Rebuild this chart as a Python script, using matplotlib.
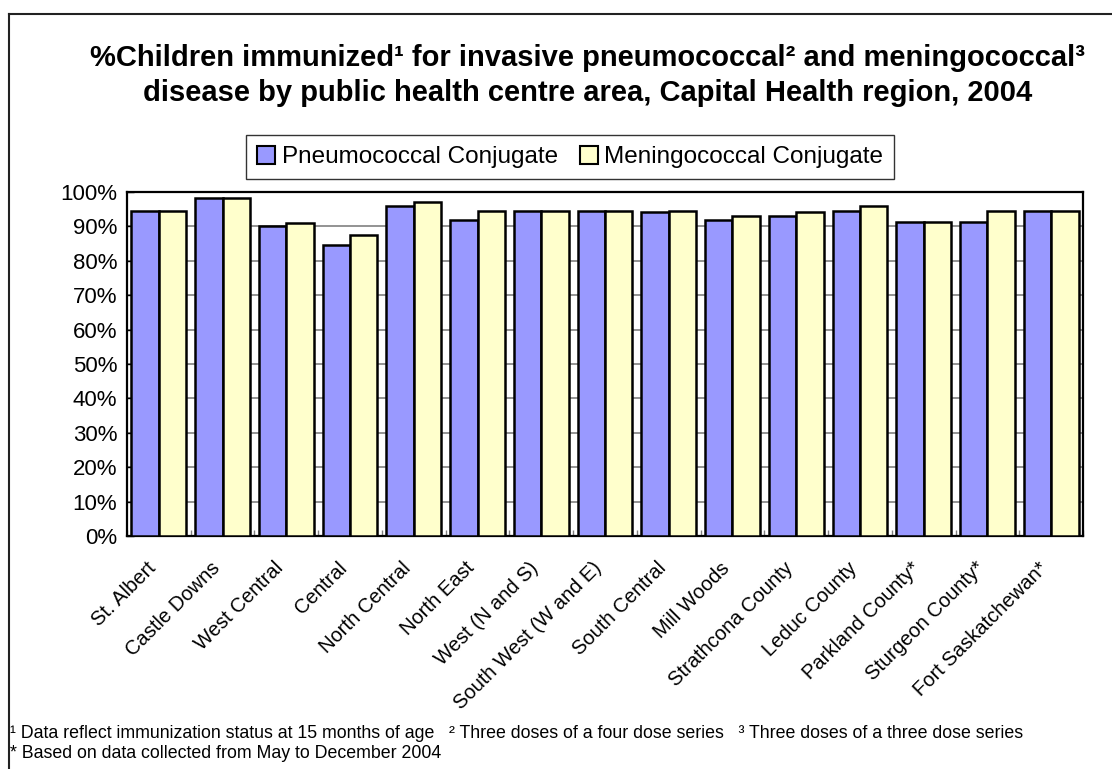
import numpy as np
import matplotlib
matplotlib.use('Agg')
import matplotlib.pyplot as plt
import matplotlib.transforms as mtransforms
from matplotlib.lines import Line2D
from matplotlib.patches import Patch

plt.rcParams['font.family'] = ['Liberation Sans', 'DejaVu Sans']

areas = ['St. Albert', 'Castle Downs', 'West Central', 'Central', 'North Central',
         'North East', 'West (N and S)', 'South West (W and E)', 'South Central',
         'Mill Woods', 'Strathcona County', 'Leduc County', 'Parkland County*',
         'Sturgeon County*', 'Fort Saskatchewan*']
pneumo = [94.6, 98.2, 90.0, 84.7, 95.9, 91.8, 94.6, 94.6, 94.1, 91.8, 92.9, 94.6, 91.2, 91.2, 94.6]
mening = [94.6, 98.2, 91.0, 87.6, 97.0, 94.6, 94.6, 94.6, 94.6, 92.9, 94.1, 95.9, 91.2, 94.6, 94.6]
yticks = list(range(0, 101, 10))

blue = '#9999FF'
cream = '#FFFFCC'

fig = plt.figure(figsize=(11.12, 7.69), dpi=100)
ax = fig.add_axes([127 / 1112, 1 - 536 / 769, (1083 - 127) / 1112, (536 - 192) / 769])

x = np.arange(len(areas))
w = 0.43
ax.bar(x - w / 2, pneumo, w, color=blue, edgecolor='black', linewidth=1.8, zorder=3)
ax.bar(x + w / 2, mening, w, color=cream, edgecolor='black', linewidth=1.8, zorder=3)

ax.set_xlim(-0.5, len(areas) - 0.5)
ax.set_ylim(0, 100)
ax.set_yticks(yticks)
ax.set_yticklabels(['%d%%' % v for v in yticks], fontsize=16)
ax.yaxis.grid(True, color='#808080', linewidth=1.2, zorder=0)
ax.tick_params(axis='y', direction='in', length=5, width=1, pad=7)

# category ticks sit between the groups
ax.set_xticks(np.arange(len(areas) + 1) - 0.5, minor=True)
ax.tick_params(axis='x', which='minor', direction='in', length=4, width=1, color='#808080')
ax.set_xticks(x)
ax.set_xticklabels(areas, rotation=45, ha='right', va='center', rotation_mode='anchor', fontsize=14.5)
ax.tick_params(axis='x', which='major', length=0, pad=21)
shift = mtransforms.ScaledTranslation(-6 / 100, 0, fig.dpi_scale_trans)
for lbl in ax.get_xticklabels():
    lbl.set_transform(lbl.get_transform() + shift)
for s in ax.spines.values():
    s.set_linewidth(1.6)

# legend
handles = [Patch(facecolor=blue, edgecolor='black', linewidth=1.5),
           Patch(facecolor=cream, edgecolor='black', linewidth=1.5)]
leg = fig.legend(handles, ['Pneumococcal Conjugate', 'Meningococcal Conjugate'],
                 loc='center', bbox_to_anchor=(570 / 1112, 1 - 157 / 769), ncol=2,
                 fontsize=17.5, frameon=True, fancybox=False, edgecolor='black',
                 handlelength=0.75, handleheight=0.75, handletextpad=0.25, columnspacing=0.9,
                 borderpad=0.45)
leg.get_frame().set_linewidth(1.0)

# titles
fig.text(588 / 1112, 1 - 58 / 769,
         '%Children immunized\u00b9 for invasive pneumococcal\u00b2 and meningococcal\u00b3',
         ha='center', va='center', fontsize=21, fontweight='bold')
fig.text(588 / 1112, 1 - 93 / 769,
         'disease by public health centre area, Capital Health region, 2004',
         ha='center', va='center', fontsize=21, fontweight='bold')

# footnotes
fig.text(10 / 1112, 1 - 734 / 769,
         '\u00b9 Data reflect immunization status at 15 months of age   '
         '\u00b2 Three doses of a four dose series   \u00b3 Three doses of a three dose series',
         ha='left', va='center', fontsize=12.8)
fig.text(10 / 1112, 1 - 754 / 769, '* Based on data collected from May to December 2004',
         ha='left', va='center', fontsize=12.8)

# outer frame (top and left edges visible)
fig.add_artist(Line2D([9 / 1112, 9 / 1112], [0, 1 - 14 / 769], transform=fig.transFigure,
                      color='#222222', linewidth=1.5))
fig.add_artist(Line2D([9 / 1112, 1], [1 - 14 / 769, 1 - 14 / 769], transform=fig.transFigure,
                      color='#222222', linewidth=1.5))

fig.savefig('out.png', dpi=100)
